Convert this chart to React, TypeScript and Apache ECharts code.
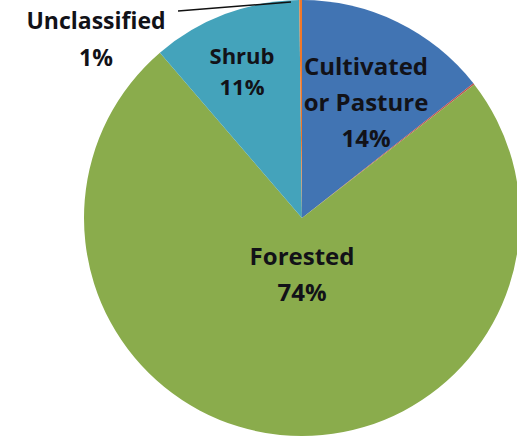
import React, { useEffect, useRef } from "react";
import * as echarts from "echarts";

// Land cover categories, in clockwise order from 12 o'clock
const categories = ["Cultivated\nor Pasture", "Other", "Forested", "Shrub", "Unclassified"];
// Share of each slice (percent)
const shares = [14.4, 0.1, 74.2, 11.1, 0.2];
// Percent labels as printed on the chart
const percentLabels = ["14%", "", "74%", "11%", "1%"];
const showLabel = [true, false, true, true, true];
const colors = ["#4174b3", "#c0504d", "#8aac4c", "#44a3bb", "#f0782a"];

// label placement (layout, not data)
const labelCenters: Array<[number, number] | null> = [
  [366, 101],
  null,
  [302, 273],
  [242, 70],
  [96, 38],
];
const labelFont = [24, 12, 24, 22, 23];
const labelLineHeight = [36, 20, 36, 31, 37];
// leader line for the Unclassified label (from pie rim to label)
const leader = { x1: 291, y1: 2, x2: 178, y2: 11 };

export default function App() {
  const ref = useRef<HTMLDivElement>(null);
  useEffect(() => {
    if (!ref.current) return;
    const chart = echarts.init(ref.current, undefined, { renderer: "svg" });
    const data = categories.map((name, i) => ({
      name,
      value: shares[i],
      itemStyle: { color: colors[i] },
      label: {
        show: showLabel[i],
        position: "inside",
        formatter: `${name}\n${percentLabels[i]}`,
        fontSize: labelFont[i],
        lineHeight: labelLineHeight[i],
        fontFamily: "Open Sans",
        fontWeight: "bold",
        color: "#121218",
        align: "center",
      },
      labelLine: { show: false },
    }));
    chart.setOption({
      animation: false,
      backgroundColor: "#ffffff",
      graphic: [
        {
          type: "line",
          z: 100,
          shape: leader,
          style: { stroke: "#111", lineWidth: 1.5 },
        },
      ],
      series: [
        {
          type: "pie",
          center: [302, 218],
          radius: [0, 218],
          startAngle: 90,
          clockwise: true,
          avoidLabelOverlap: false,
          minAngle: 0,
          data,
          itemStyle: { borderWidth: 0 },
          emphasis: { disabled: true },
          labelLayout: (params: any) => {
            const p = labelCenters[params.dataIndex];
            if (!p) return {};
            return { x: p[0], y: p[1], align: "center", verticalAlign: "middle" };
          },
        },
      ],
    });
    return () => chart.dispose();
  }, []);
  return (
    <div
      ref={ref}
      style={{ position: "absolute", left: 0, top: 0, width: 517, height: 446 }}
    />
  );
}
